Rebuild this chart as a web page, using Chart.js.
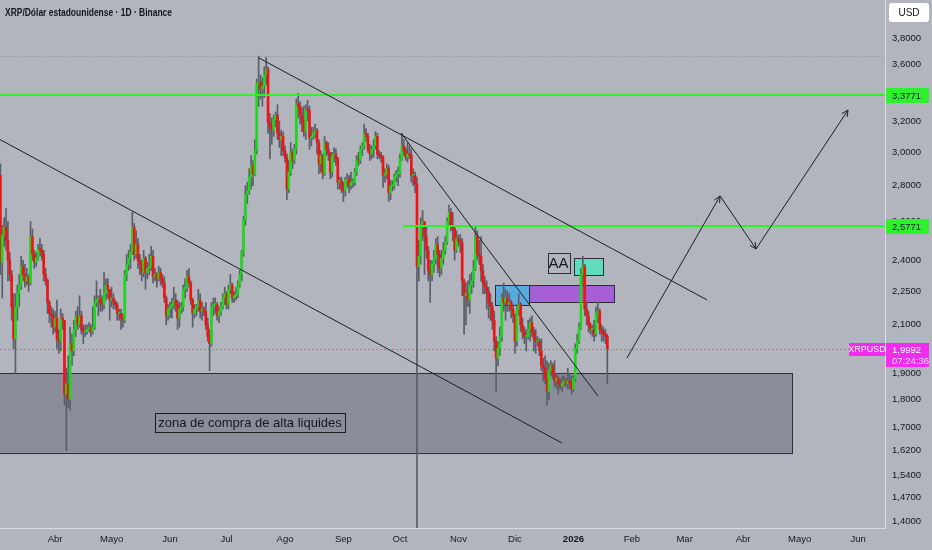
<!DOCTYPE html>
<html>
<head>
<meta charset="utf-8">
<script src="https://cdn.jsdelivr.net/npm/chart.js@4.4.1/dist/chart.umd.min.js"></script>
<style>
html, body { margin: 0; padding: 0; background: #b2b5be; }
#wrap { width: 932px; height: 550px; position: relative; }
</style>
</head>
<body>
<div id="wrap"><canvas id="myChart"></canvas></div>
<script>
// days are counted from 1 Jan 2025 (= day 0), one candle per day
var firstDay = 61;      // 3 Mar 2025
var firstOpen = 2.86;

var closes = [
    // Mar
    2.39,2.53,2.57,2.50,2.40,2.33,2.18,2.04,2.18,2.24,2.28,2.37,2.33,2.30,2.32,2.29,2.52,2.43,2.39,2.41,2.46,2.45,2.43,2.33,2.30,2.20,2.15,2.14,2.09,
    // Apr
    2.13,2.04,2.03,2.13,2.12,1.82,1.86,1.80,2.02,1.99,2.08,2.14,2.10,2.14,2.08,2.07,2.07,2.08,2.09,2.07,2.09,2.20,2.21,2.22,2.20,2.19,2.24,2.28,2.26,2.21,
    // May
    2.22,2.20,2.19,2.15,2.15,2.13,2.12,2.33,2.38,2.41,2.44,2.57,2.43,2.48,2.40,2.38,2.34,2.41,2.34,2.36,2.37,2.42,2.32,2.33,2.31,2.34,2.31,2.29,2.22,2.14,2.17,
    // Jun
    2.18,2.19,2.21,2.19,2.13,2.17,2.18,2.26,2.27,2.32,2.29,2.21,2.15,2.17,2.18,2.21,2.16,2.17,2.16,2.10,2.05,2.02,2.18,2.19,2.19,2.14,2.16,2.18,2.22,2.24,
    // Jul
    2.19,2.26,2.28,2.22,2.23,2.24,2.28,2.33,2.44,2.61,2.75,2.77,2.85,2.92,2.87,3.01,3.46,3.47,3.42,3.44,3.52,3.56,3.19,3.16,3.14,3.21,3.24,3.12,3.08,3.10,3.01,
    // Aug
    2.97,2.78,2.88,3.00,2.95,3.02,3.32,3.30,3.24,3.20,3.13,3.28,3.27,3.09,3.10,3.12,3.14,3.06,2.93,2.98,2.87,3.06,3.02,2.99,2.88,2.98,2.99,2.96,2.82,2.83,2.78,
    // Sep
    2.77,2.83,2.84,2.80,2.82,2.82,2.88,2.96,2.95,3.02,3.04,3.12,3.10,3.02,2.99,3.02,3.04,3.10,2.99,2.98,2.97,2.86,2.87,2.90,2.76,2.80,2.80,2.85,2.87,2.87,
    // Oct
    2.96,3.04,3.01,2.97,2.99,2.98,2.86,2.86,2.81,2.37,2.42,2.57,2.60,2.52,2.45,2.35,2.33,2.38,2.41,2.48,2.43,2.36,2.41,2.45,2.49,2.60,2.65,2.58,2.56,2.45,2.51,
    // Nov
    2.50,2.49,2.30,2.23,2.24,2.21,2.28,2.30,2.36,2.52,2.43,2.42,2.35,2.29,2.27,2.25,2.20,2.18,2.12,2.03,1.96,2.00,2.05,2.22,2.20,2.22,2.19,2.20,2.17,2.14,
    // Dec
    2.03,2.17,2.19,2.10,2.07,2.05,2.05,2.08,2.11,2.07,2.04,2.03,2.03,1.99,1.93,1.92,1.88,1.83,1.91,1.93,1.90,1.87,1.88,1.86,1.85,1.86,1.87,1.86,1.87,1.86,1.84,
    // Jan 2026
    1.88,2.00,2.03,2.09,2.33,2.37,2.17,2.14,2.10,2.08,2.08,2.06,2.15,2.16,2.08,2.07,2.06,2.05,1.9992
];
var highs = [
    2.93,2.58,2.62,2.67,2.60,2.44,2.35,2.24,2.24,2.28,2.33,2.42,2.40,2.38,2.36,2.33,2.60,2.56,2.45,2.44,2.48,2.51,2.48,2.45,2.36,2.31,2.21,2.18,2.17,
    2.16,2.21,2.08,2.17,2.15,2.12,1.92,1.97,2.09,2.06,2.12,2.16,2.18,2.23,2.16,2.10,2.10,2.10,2.11,2.10,2.18,2.23,2.30,2.23,2.26,2.23,2.34,2.31,2.31,2.26,
    2.27,2.24,2.21,2.20,2.17,2.17,2.15,2.35,2.43,2.45,2.48,2.65,2.59,2.55,2.51,2.43,2.40,2.45,2.42,2.39,2.43,2.47,2.45,2.36,2.34,2.37,2.36,2.33,2.32,2.23,2.19,
    2.20,2.22,2.27,2.24,2.21,2.20,2.20,2.28,2.31,2.35,2.36,2.30,2.22,2.19,2.19,2.26,2.24,2.20,2.18,2.20,2.13,2.08,2.20,2.22,2.22,2.20,2.18,2.20,2.24,2.27,
    2.25,2.28,2.33,2.29,2.25,2.27,2.30,2.35,2.45,2.63,2.80,2.82,2.90,2.98,2.95,3.08,3.49,3.66,3.52,3.50,3.58,3.65,3.58,3.25,3.22,3.24,3.26,3.31,3.20,3.14,3.13,
    3.04,2.99,2.95,3.06,3.02,3.05,3.35,3.39,3.33,3.29,3.30,3.31,3.34,3.30,3.16,3.16,3.18,3.15,3.08,3.01,2.99,3.10,3.07,3.06,3.00,3.00,3.03,3.02,2.97,2.85,2.85,
    2.82,2.85,2.87,2.86,2.88,2.84,2.90,2.98,3.00,3.04,3.06,3.18,3.15,3.12,3.05,3.04,3.08,3.13,3.12,3.01,3.00,2.98,2.90,2.93,2.92,2.83,2.83,2.87,2.89,2.91,
    2.99,3.12,3.08,3.03,3.06,3.04,3.02,2.90,2.88,2.85,2.50,2.62,2.66,2.60,2.58,2.47,2.40,2.40,2.45,2.51,2.52,2.45,2.45,2.49,2.52,2.62,2.69,2.67,2.65,2.58,2.55,
    2.53,2.53,2.51,2.31,2.29,2.30,2.33,2.34,2.40,2.58,2.55,2.50,2.52,2.38,2.32,2.30,2.27,2.24,2.20,2.16,2.05,2.03,2.09,2.24,2.29,2.26,2.25,2.24,2.21,2.19,
    2.15,2.19,2.24,2.20,2.13,2.09,2.08,2.12,2.13,2.14,2.09,2.08,2.05,2.04,2.04,1.96,1.97,1.95,1.94,1.95,1.94,1.95,1.90,1.89,1.88,1.89,1.89,1.88,1.92,1.90,1.89,
    1.89,2.02,2.06,2.11,2.36,2.42,2.38,2.20,2.16,2.11,2.10,2.12,2.18,2.20,2.17,2.10,2.09,2.08,2.06
];
var lows = [
    2.33,2.22,2.47,2.45,2.30,2.30,2.12,2.00,1.90,2.12,2.18,2.26,2.30,2.27,2.28,2.25,2.28,2.40,2.36,2.37,2.40,2.42,2.40,2.30,2.28,2.15,2.11,2.09,2.06,
    2.07,2.00,1.98,1.99,2.08,1.78,1.62,1.77,1.76,1.93,1.97,2.05,2.08,2.09,2.06,2.02,2.05,2.06,2.07,2.05,2.06,2.08,2.18,2.14,2.16,2.16,2.17,2.21,2.22,2.12,
    2.18,2.17,2.17,2.12,2.12,2.08,2.09,2.11,2.30,2.35,2.36,2.43,2.40,2.41,2.36,2.33,2.30,2.32,2.26,2.31,2.33,2.35,2.29,2.30,2.27,2.30,2.28,2.27,2.20,2.10,2.12,
    2.13,2.13,2.17,2.16,2.08,2.09,2.15,2.16,2.22,2.25,2.27,2.19,2.09,2.13,2.14,2.16,2.13,2.12,2.14,2.08,2.03,1.91,2.01,2.14,2.15,2.12,2.11,2.14,2.17,2.19,
    2.17,2.17,2.24,2.20,2.20,2.21,2.22,2.27,2.30,2.42,2.58,2.70,2.75,2.78,2.80,2.86,2.99,3.30,3.35,3.30,3.36,3.45,3.12,2.96,3.05,3.10,3.16,3.08,3.03,2.98,2.98,
    2.94,2.72,2.76,2.86,2.90,2.93,2.99,3.22,3.18,3.13,3.10,3.08,3.20,3.02,3.04,3.08,3.09,2.99,2.87,2.88,2.84,2.86,2.98,2.95,2.84,2.85,2.94,2.92,2.78,2.78,2.76,
    2.71,2.74,2.79,2.76,2.78,2.79,2.80,2.86,2.92,2.93,2.98,3.02,3.07,3.00,2.95,2.96,2.97,3.02,2.96,2.96,2.94,2.79,2.82,2.84,2.71,2.72,2.77,2.78,2.82,2.80,
    2.85,2.95,2.98,2.95,2.94,2.96,2.82,2.80,2.76,1.30,2.30,2.38,2.50,2.33,2.41,2.30,2.20,2.30,2.34,2.38,2.34,2.32,2.33,2.38,2.43,2.48,2.58,2.55,2.50,2.40,2.44,
    2.47,2.44,2.23,2.06,2.10,2.18,2.15,2.24,2.27,2.35,2.40,2.38,2.30,2.24,2.24,2.17,2.13,2.12,2.08,1.99,1.83,1.93,1.97,2.03,2.16,2.12,2.16,2.16,2.13,2.11,
    1.98,2.01,2.14,2.07,2.04,2.02,1.99,2.04,2.03,2.05,1.99,1.98,2.01,1.97,1.91,1.87,1.86,1.78,1.80,1.89,1.88,1.85,1.84,1.82,1.84,1.83,1.85,1.85,1.84,1.84,1.82,
    1.83,1.87,1.98,2.02,2.08,2.28,2.14,2.10,2.07,2.06,2.05,2.03,2.05,2.11,2.06,2.03,2.03,2.02,1.86
];

var monthDays = [90, 120, 151, 181, 212, 243, 273, 304, 334, 365, 396, 424, 455, 485, 516];
var monthLabels = ["Abr", "Mayo", "Jun", "Jul", "Ago", "Sep", "Oct", "Nov", "Dic", "2026", "Feb", "Mar", "Abr", "Mayo", "Jun"];
var priceTicks = [3.8, 3.6, 3.4, 3.2, 3.0, 2.8, 2.6, 2.4, 2.25, 2.1, 2.0, 1.9, 1.8, 1.7, 1.62, 1.54, 1.47, 1.4];

var lastPrice = 1.9992;
var lastTime = "07:24:36";
var levels = [[3.3771, 0], [2.5771, 274.6]];                 // price, first day
var trendLines = [[60.8, 3.08, 358.9, 1.645], [198.2, 3.646, 435.9, 2.211], [273.5, 3.122, 378, 1.813]];
var projection = [[393.4, 1.961], [442.8, 2.741], [461.9, 2.457], [510.7, 3.274]];
var zoneBox = [0, 481, 1.901, 1.612];                          // day from, day to, top, bottom
var zoneText = ["zona de compra de alta liquides", 193.4, 1.716];
var boxes = [
    [323.4, 341.4, 2.280, 2.188, "#5aaae0"],
    [341.4, 386.5, 2.280, 2.202, "#a55fd7"],
    [365.3, 380.7, 2.411, 2.328, "#5fdcbe"]
];
var noteText = ["AA", 357.1, 2.387];

var upColor = "#1ed81e";
var downColor = "#f01414";
var wickColor = "#5a5d68";
var ink = "#131722";
var font = "'Liberation Sans', Arial, sans-serif";

var wickData = [];
var bodyData = [];
var bodyColors = [];
var open = firstOpen;
for (var i = 0; i < closes.length; i++) {
    wickData.push({x: firstDay + i, y: [lows[i], highs[i]]});
    bodyData.push({x: firstDay + i, y: [open, closes[i]]});
    bodyColors.push(closes[i] >= open ? upColor : downColor);
    open = closes[i];
}

function px(v) { return Math.round(v) + 0.5; }

function noPadding(scale) {
    scale.paddingTop = 0;
    scale.paddingBottom = 0;
    scale.paddingLeft = 0;
    scale.paddingRight = 0;
}

var overlay = {
    id: 'overlay',
    beforeDatasetsDraw: function (chart) {
        var ctx = chart.ctx, xs = chart.scales.x, ys = chart.scales.y, a = chart.chartArea;
        ctx.save();
        ctx.beginPath();
        ctx.rect(a.left, a.top, a.right - a.left, a.bottom - a.top);
        ctx.clip();

        // buying zone
        var x1 = xs.getPixelForValue(zoneBox[0]), x2 = xs.getPixelForValue(zoneBox[1]);
        var y1 = ys.getPixelForValue(zoneBox[2]), y2 = ys.getPixelForValue(zoneBox[3]);
        ctx.fillStyle = "rgba(60,63,81,0.33)";
        ctx.fillRect(x1, y1, x2 - x1, y2 - y1);
        ctx.strokeStyle = "#2a2e39";
        ctx.lineWidth = 1;
        ctx.strokeRect(px(x1), px(y1), Math.round(x2 - x1), Math.round(y2 - y1));

        // coloured boxes (candles are drawn over them)
        boxes.forEach(function (b) {
            var bx1 = Math.round(xs.getPixelForValue(b[0])), bx2 = Math.round(xs.getPixelForValue(b[1]));
            var by1 = Math.round(ys.getPixelForValue(b[2])), by2 = Math.round(ys.getPixelForValue(b[3]));
            ctx.fillStyle = b[4];
            ctx.fillRect(bx1, by1, bx2 - bx1, by2 - by1);
            ctx.strokeStyle = "#2a2e39";
            ctx.strokeRect(bx1 + 0.5, by1 + 0.5, bx2 - bx1, by2 - by1);
        });

        // highest high dotted line
        var hy = px(ys.getPixelForValue(Math.max.apply(null, highs)));
        ctx.setLineDash([1, 2]);
        ctx.strokeStyle = "#8c8f99";
        ctx.beginPath(); ctx.moveTo(a.left, hy); ctx.lineTo(a.right, hy); ctx.stroke();

        // last price line
        var ly = px(ys.getPixelForValue(lastPrice));
        ctx.setLineDash([2, 2]);
        ctx.strokeStyle = "#f044f0";
        ctx.beginPath(); ctx.moveTo(a.left, ly); ctx.lineTo(a.right, ly); ctx.stroke();
        ctx.setLineDash([]);
        ctx.restore();
    },
    afterDatasetsDraw: function (chart) {
        var ctx = chart.ctx, xs = chart.scales.x, ys = chart.scales.y, a = chart.chartArea;
        ctx.save();
        ctx.beginPath();
        ctx.rect(a.left, a.top, a.right - a.left, a.bottom - a.top);
        ctx.clip();

        // horizontal levels
        ctx.strokeStyle = "#2ef02e";
        ctx.lineWidth = 2;
        levels.forEach(function (l) {
            var y = Math.round(ys.getPixelForValue(l[0]));
            ctx.beginPath();
            ctx.moveTo(xs.getPixelForValue(l[1]), y);
            ctx.lineTo(a.right, y);
            ctx.stroke();
        });

        // trend lines
        ctx.strokeStyle = "#1c1c22";
        ctx.lineWidth = 1;
        trendLines.forEach(function (t) {
            ctx.beginPath();
            ctx.moveTo(xs.getPixelForValue(t[0]), ys.getPixelForValue(t[1]));
            ctx.lineTo(xs.getPixelForValue(t[2]), ys.getPixelForValue(t[3]));
            ctx.stroke();
        });

        // projected path with arrow heads
        var pts = projection.map(function (p) { return [xs.getPixelForValue(p[0]), ys.getPixelForValue(p[1])]; });
        ctx.beginPath();
        ctx.moveTo(pts[0][0], pts[0][1]);
        for (var k = 1; k < pts.length; k++) ctx.lineTo(pts[k][0], pts[k][1]);
        ctx.stroke();
        for (var k = 1; k < pts.length; k++) {
            var ang = Math.atan2(pts[k][1] - pts[k - 1][1], pts[k][0] - pts[k - 1][0]);
            ctx.beginPath();
            ctx.moveTo(pts[k][0] - 7 * Math.cos(ang - 0.45), pts[k][1] - 7 * Math.sin(ang - 0.45));
            ctx.lineTo(pts[k][0], pts[k][1]);
            ctx.lineTo(pts[k][0] - 7 * Math.cos(ang + 0.45), pts[k][1] - 7 * Math.sin(ang + 0.45));
            ctx.stroke();
        }

        // text notes
        ctx.fillStyle = ink;
        ctx.textAlign = "center";
        ctx.textBaseline = "middle";
        ctx.font = "13px " + font;
        var tx = xs.getPixelForValue(zoneText[1]), ty = ys.getPixelForValue(zoneText[2]);
        var tw = ctx.measureText(zoneText[0]).width;
        ctx.fillText(zoneText[0], tx, ty + 1);
        ctx.strokeStyle = "#1c1c22";
        ctx.strokeRect(px(tx - tw / 2 - 3), px(ty - 10), Math.round(tw + 6), 19);

        ctx.font = "15px " + font;
        var nx = xs.getPixelForValue(noteText[1]), ny = ys.getPixelForValue(noteText[2]);
        ctx.fillText(noteText[0], nx, ny + 1);
        ctx.strokeStyle = "#2a2e39";
        ctx.strokeRect(px(nx - 11), px(ny - 10), 22, 20);
        ctx.restore();
    },
    afterDraw: function (chart) {
        var ctx = chart.ctx, ys = chart.scales.y, a = chart.chartArea;
        ctx.save();
        ctx.textBaseline = "middle";

        // level tags on the price scale
        ctx.font = "9.5px " + font;
        levels.forEach(function (l) {
            var y = Math.round(ys.getPixelForValue(l[0]));
            ctx.fillStyle = "#2ef02e";
            ctx.fillRect(a.right + 1, y - 7, 43, 15);
            ctx.fillStyle = ink;
            ctx.textAlign = "left";
            ctx.fillText(l[0].toFixed(4).replace(".", ","), a.right + 7, y + 1);
        });

        // last price tags
        var ly = Math.round(ys.getPixelForValue(lastPrice));
        ctx.fillStyle = "#f02cf0";
        ctx.fillRect(a.right - 36, ly - 6, 36, 13);
        ctx.fillRect(a.right + 1, ly - 6, 43, 24);
        ctx.fillStyle = "#ffffff";
        ctx.textAlign = "center";
        ctx.font = "9px " + font;
        ctx.fillText("XRPUSD", a.right - 18, ly + 1);
        ctx.textAlign = "left";
        ctx.font = "9.5px " + font;
        ctx.fillText(lastPrice.toFixed(4).replace(".", ","), a.right + 7, ly + 1);
        ctx.fillStyle = "#ffd6ff";
        ctx.fillText(lastTime, a.right + 7, ly + 12);

        // currency button
        ctx.fillStyle = "#ffffff";
        ctx.beginPath();
        ctx.roundRect(889, 3, 40, 19, 3);
        ctx.fill();
        ctx.fillStyle = ink;
        ctx.textAlign = "center";
        ctx.font = "10px " + font;
        ctx.fillText("USD", 909, 13);

        // symbol title
        ctx.textAlign = "left";
        ctx.font = "bold 11px " + font;
        ctx.fillText("XRP/Dólar estadounidense · 1D · Binance", 5, 13, 167);
        ctx.restore();
    }
};

var ctx = document.getElementById("myChart");
var myChart = new Chart(ctx, {
    type: 'bar',
    data: {
        datasets: [{
            label: 'wicks',
            data: wickData,
            backgroundColor: wickColor,
            barThickness: 1,
            grouped: false,
            order: 2
        }, {
            label: 'bodies',
            data: bodyData,
            backgroundColor: bodyColors,
            barThickness: 2,
            minBarLength: 1,
            grouped: false,
            order: 1
        }]
    },
    options: {
        responsive: true,
        maintainAspectRatio: false,
        animation: false,
        layout: {padding: 0},
        plugins: {legend: {display: false}, tooltip: {enabled: false}},
        scales: {
            x: {
                type: 'linear',
                min: 60.8,
                max: 530.3,
                offset: false,
                grid: {display: false, drawTicks: false},
                border: {color: '#d9dbe1'},
                afterBuildTicks: function (scale) {
                    scale.ticks = monthDays.map(function (d) { return {value: d}; });
                },
                afterFit: function (scale) { scale.height = 22; noPadding(scale); },
                ticks: {
                    color: ink,
                    padding: 6,
                    maxRotation: 0,
                    autoSkip: false,
                    font: function (c) {
                        return {family: font, size: 9.5, weight: (c.tick && c.tick.value === 365) ? 'bold' : 'normal'};
                    },
                    callback: function (v) { return monthLabels[monthDays.indexOf(v)]; }
                }
            },
            y: {
                type: 'logarithmic',
                position: 'right',
                min: 1.38,
                max: 4.11,
                grid: {display: false, drawTicks: false},
                border: {color: '#d9dbe1'},
                afterBuildTicks: function (scale) {
                    scale.ticks = priceTicks.map(function (v) { return {value: v}; });
                },
                afterFit: function (scale) { scale.width = 47; noPadding(scale); },
                ticks: {
                    color: ink,
                    padding: 7,
                    crossAlign: 'near',
                    font: {family: font, size: 9.5},
                    callback: function (v) { return Number(v).toFixed(4).replace(".", ","); }
                }
            }
        }
    },
    plugins: [overlay]
});
</script>
</body>
</html>
